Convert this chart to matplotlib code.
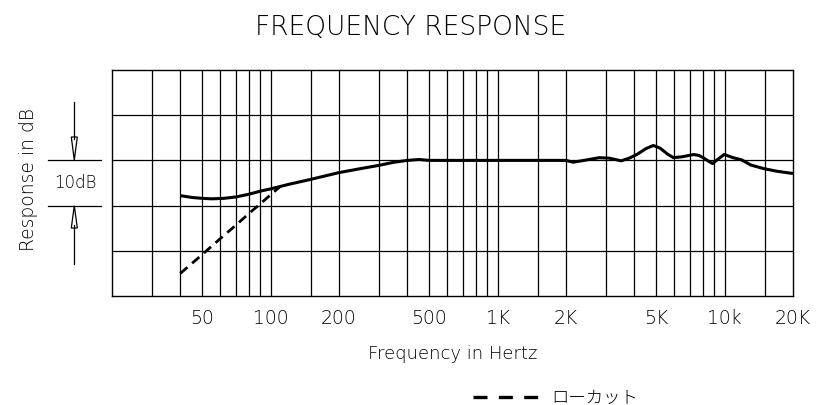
import matplotlib
matplotlib.use("Agg")
import matplotlib.pyplot as plt
from matplotlib.lines import Line2D
from matplotlib.patches import Polygon

plt.rcParams['font.family'] = ['DejaVu Sans', 'Noto Sans CJK JP']
plt.rcParams['font.weight'] = 'light'
plt.rcParams['axes.labelweight'] = 'light'

# ---- data ----
freq_response = [40, 45, 50, 55, 62, 70, 80, 90, 100, 120, 150, 200, 250, 300, 350,
                 400, 450, 500, 1000, 2000, 2150, 2400, 2800, 3100, 3500, 3800,
                 4100, 4500, 4850, 5200, 5600, 5950, 6500, 7300, 7700, 8050, 8500,
                 8850, 9300, 9950, 10900, 11900, 13000, 14800, 17000, 20000]
db_response = [-7.8, -8.2, -8.4, -8.5, -8.4, -8.1, -7.5, -6.8, -6.3, -5.3, -4.2, -2.7,
               -1.8, -1.1, -0.4, 0.0, 0.2, 0.0, 0.0, 0.0, -0.4, 0.0, 0.6, 0.5, -0.1,
               0.5, 1.3, 2.6, 3.3, 2.7, 1.4, 0.6, 0.8, 1.3, 1.1, 0.6, -0.2, -0.7,
               0.2, 1.3, 0.6, 0.1, -1.0, -1.8, -2.4, -2.9]

freq_lowcut = [40, 50, 60, 70, 80, 90, 100, 110]
db_lowcut = [-25.0, -20.8, -17.3, -14.4, -11.8, -9.6, -7.6, -5.8]

grid_freqs = [30, 40, 50, 60, 70, 80, 90, 100, 150, 200, 300, 400, 500, 600, 700,
              800, 900, 1000, 1500, 2000, 3000, 4000, 5000, 6000, 7000, 8000, 9000,
              10000, 15000]
grid_db = [-20, -10, 0, 10]

tick_freqs = [50, 100, 200, 500, 1000, 2000, 5000, 10000, 20000]
tick_labels = ["50", "100", "200", "500", "1K", "2K", "5K", "10k", "20K"]

legend_label = "ローカット"

# ---- figure ----
W, H = 821, 406
fig = plt.figure(figsize=(W / 100, H / 100), dpi=100)
ax = fig.add_axes([112 / W, 1 - 297 / H, (793 - 112) / W, (297 - 71) / H])

ax.set_xscale('log')
ax.set_xlim(20, 20000)
ax.set_ylim(-30, 20)

for f in grid_freqs:
    ax.axvline(f, color='black', lw=0.9, zorder=1)
for d in grid_db:
    ax.axhline(d, color='black', lw=0.9, zorder=1)
for s in ax.spines.values():
    s.set_linewidth(1.0)

ax.plot(freq_response, db_response, color='black', lw=2.2, solid_capstyle='butt', zorder=3)
ax.plot(freq_lowcut, db_lowcut, color='black', lw=2.0, dashes=(3.4, 2.2), zorder=3)

ax.set_xticks(tick_freqs)
ax.set_xticklabels(tick_labels, fontsize=13.5)
ax.xaxis.set_minor_locator(matplotlib.ticker.NullLocator())
ax.set_yticks([])
ax.tick_params(axis='x', length=0, pad=9, labelcolor='black')

ax.set_xlabel("Frequency in Hertz", fontsize=13, labelpad=12)

fig.text(0.5, 1 - 27 / H, "FREQUENCY RESPONSE", ha='center', va='center', fontsize=19)

# y label and 10 dB indicator
fig.text(29 / W, 1 - 180 / H, "Response in dB", rotation=90, ha='center', va='center',
         fontsize=13.5)
y0 = 1 - 161 / H
y1 = 1 - 206.7 / H
xa = 74.3 / W
fig.add_artist(Line2D([48 / W, 100.5 / W], [y0, y0], color='black', lw=0.9))
fig.add_artist(Line2D([48 / W, 100.5 / W], [y1, y1], color='black', lw=0.9))
fig.add_artist(Line2D([xa, xa], [1 - 102.5 / H, 1 - 140 / H], color='black', lw=0.9))
fig.add_artist(Line2D([xa, xa], [1 - 226 / H, 1 - 265 / H], color='black', lw=0.9))
hw = 3 / W
fig.add_artist(Polygon([[xa - hw, 1 - 138 / H], [xa + hw, 1 - 138 / H], [xa, y0]],
                       closed=True, fill=False, edgecolor='black', lw=0.9))
fig.add_artist(Polygon([[xa - hw, 1 - 229 / H], [xa + hw, 1 - 229 / H], [xa, y1]],
                       closed=True, fill=False, edgecolor='black', lw=0.9))
fig.text(75 / W, 1 - 183 / H, "10dB", ha='center', va='center', fontsize=12)

# legend
ly = 1 - 398 / H
fig.add_artist(Line2D([473 / W, 543 / W], [ly, ly], color='black', lw=2.4,
                      dashes=(4.2, 3.4)))
fig.text(551 / W, ly, legend_label, ha='left', va='center', fontsize=12.5,
         family=['Noto Sans CJK JP', 'DejaVu Sans'], fontweight='light')

fig.savefig("out.png", dpi=100)
